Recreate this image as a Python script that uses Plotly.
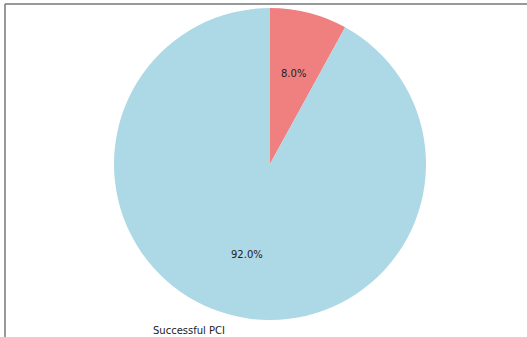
import math
import plotly.graph_objects as go

labels = ["Failed PCI", "Successful PCI"]
values = [8.0, 92.0]
colors = ["#F08080", "#ADD8E6"]
shown_outer_labels = ["Successful PCI"]  # the other label falls outside the visible crop

W, H = 527, 337
cx, cy, r = 270, 164, 156  # pixel geometry of pie

dom_x = [(cx - r) / W, (cx + r) / W]
dom_y = [(H - cy - r) / H, (H - cy + r) / H]

fig = go.Figure(go.Pie(
    labels=labels, values=values, sort=False, direction="clockwise", rotation=0,
    marker=dict(colors=colors, line=dict(width=0)),
    textinfo="none", hoverinfo="label+percent", showlegend=False,
    domain=dict(x=dom_x, y=dom_y),
))

annotations = []
total = sum(values)
start = 90.0
for lab, v in zip(labels, values):
    frac = v / total
    mid = start - 360 * frac / 2
    start -= 360 * frac
    a = math.radians(mid)
    px = cx + 0.6 * r * math.cos(a)
    py = cy - 0.6 * r * math.sin(a)
    annotations.append(dict(x=px / W, y=1 - py / H, xref="paper", yref="paper",
                            xanchor="center", yanchor="middle",
                            text=f"{frac*100:.1f}%", showarrow=False,
                            font=dict(family="DejaVu Sans", size=10, color="#222")))
    if lab in shown_outer_labels:
        lx = cx + 1.1 * r * math.cos(a)
        ly = cy - 1.1 * r * math.sin(a)
        annotations.append(dict(x=lx / W, y=1 - ly / H, xref="paper", yref="paper",
                                text=lab, showarrow=False,
                                xanchor="right" if math.cos(a) < 0 else "left",
                                yanchor="middle",
                                font=dict(family="DejaVu Sans", size=10, color="#222")))

fig.update_layout(
    width=W, height=H, margin=dict(l=0, r=0, t=0, b=0),
    paper_bgcolor="white", plot_bgcolor="white",
    annotations=annotations,
    shapes=[
        dict(type="line", xref="paper", yref="paper", x0=5 / W, x1=5 / W, y0=0, y1=1 - 4 / H,
             line=dict(color="#777", width=1.5)),
        dict(type="line", xref="paper", yref="paper", x0=5 / W, x1=1, y0=1 - 4 / H, y1=1 - 4 / H,
             line=dict(color="#777", width=1.5)),
    ],
)

fig.write_html("out.html")
